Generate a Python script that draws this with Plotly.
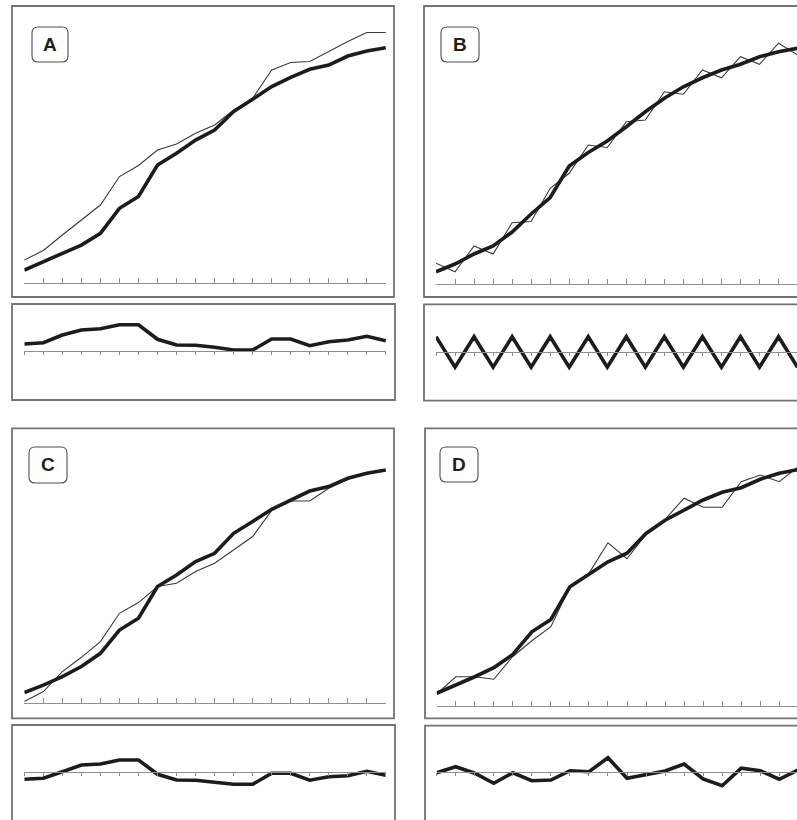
import plotly.graph_objects as go

# ---------------------------------------------------------------
# Data: 20 equally spaced time steps, observed series (thick line),
# model series (thin line) and residuals for the four panels A-D.
# Units are arbitrary (growth index 0-100).
# ---------------------------------------------------------------
steps = list(range(1, 21))

observed_A = [5.3, 8.7, 12.0, 15.3, 20.0, 30.0, 34.7, 47.3, 52.0, 57.3,
              61.3, 68.7, 73.6, 78.7, 82.4, 85.6, 87.3, 90.9, 92.9, 94.2]
model_A = [9.3, 13.1, 19.3, 25.3, 31.3, 42.7, 47.1, 53.3, 55.7, 60.0,
           63.3, 69.3, 74.0, 85.3, 88.3, 88.7, 92.7, 96.7, 100.3, 100.3]
residual_A = [2.8, 3.3, 6.4, 8.4, 8.9, 10.5, 10.5, 4.7, 2.4, 2.3,
              1.5, 0.4, 0.4, 4.8, 4.8, 2.1, 3.7, 4.4, 5.9, 4.1]

observed_B = [4.9, 8.0, 12.0, 15.2, 20.8, 28.0, 34.6, 47.2, 52.6, 57.2,
              62.9, 68.9, 74.3, 78.9, 82.5, 85.6, 87.9, 90.9, 92.9, 94.3]
model_B = [8.3, 4.9, 15.2, 12.0, 24.5, 25.0, 38.3, 44.3, 55.6, 54.6,
           64.9, 65.6, 76.9, 75.9, 85.6, 82.5, 90.9, 87.9, 96.3, 91.6]
residual_B = [6.0, -6.2, 6.0, -6.2, 6.0, -6.2, 6.0, -6.2, 6.0, -6.2,
              6.0, -6.2, 6.0, -6.2, 6.0, -6.2, 6.0, -6.2, 6.0, -6.2]

observed_C = [4.3, 7.3, 10.7, 14.7, 20.0, 29.3, 34.0, 46.7, 51.3, 56.7,
              60.0, 68.0, 72.7, 77.6, 81.3, 84.9, 86.7, 90.0, 92.0, 93.3]
model_C = [0.7, 4.7, 12.7, 18.4, 24.7, 36.0, 40.3, 46.7, 48.0, 52.7,
           56.0, 61.3, 66.7, 77.1, 80.9, 80.9, 86.0, 89.6, 92.0, 93.3]
residual_C = [-2.9, -2.5, 0.1, 2.8, 3.2, 4.8, 4.8, -0.9, -3.2, -3.3,
              -4.1, -4.9, -4.9, -0.5, -0.5, -3.3, -1.9, -1.5, 0.3, -1.3]

observed_D = [5.1, 8.3, 11.7, 15.3, 20.6, 29.7, 34.6, 47.7, 52.8, 57.7,
              61.1, 69.0, 74.3, 78.5, 82.4, 85.5, 87.3, 90.7, 93.1, 94.6]
model_D = [4.8, 11.7, 11.7, 10.7, 19.8, 26.1, 31.7, 47.7, 53.1, 65.3,
           58.9, 68.7, 74.7, 83.1, 79.5, 79.5, 89.7, 92.4, 89.7, 95.7]
residual_D = [-0.3, 2.1, -0.5, -4.5, -0.3, -3.5, -3.2, 0.5, 0.1, 5.7,
              -2.5, -0.9, 0.4, 3.2, -2.8, -5.5, 1.5, 0.5, -2.9, 0.8]

panel_labels = ["A", "B", "C", "D"]

# ---------------------------------------------------------------
# Page geometry (pixels) and helpers
# ---------------------------------------------------------------
W, H = 797, 820
PX_PER_UNIT = 2.5      # vertical pixels per data unit
STEP_PX = 19.03        # horizontal pixels between time steps


def fx(x):
    return x / W


def fy(y):
    return 1 - y / H


panels = [
    dict(label=panel_labels[0], obs=observed_A, mod=model_A, res=residual_A,
         x_first=24.3, box=(12, 394, 6, 297), axis=283.3,
         rbox=(12, 395, 304, 400), zero=351.0, tag=(32, 68, 27, 62)),
    dict(label=panel_labels[1], obs=observed_B, mod=model_B, res=residual_B,
         x_first=436.0, box=(424, 807, 6, 297), axis=284.0,
         rbox=(424, 807, 304.3, 400.7), zero=351.7, tag=(441, 479, 27, 62)),
    dict(label=panel_labels[2], obs=observed_C, mod=model_C, res=residual_C,
         x_first=24.3, box=(12, 394, 428.3, 718.3), axis=703.3,
         rbox=(12, 395, 725, 830), zero=772.0, tag=(29, 67, 447, 483)),
    dict(label=panel_labels[3], obs=observed_D, mod=model_D, res=residual_D,
         x_first=436.7, box=(425, 808, 428.3, 718.3), axis=706.0,
         rbox=(425, 808, 725.7, 830), zero=772.0, tag=(440, 478, 447, 482)),
]

AXIS_GREY = "#8f8f8f"
BOX_GREY = "#737373"
THICK = dict(color="#1c1c1c", width=3.6)
THIN = dict(color="#3a3a3a", width=1.1)

fig = go.Figure()
layout = dict(
    width=W, height=H,
    margin=dict(l=0, r=0, t=0, b=0),
    paper_bgcolor="white", plot_bgcolor="rgba(0,0,0,0)",
    showlegend=False,
)
shapes = []
annotations = []


def rounded_rect(x0, x1, y0, y1, r):
    """SVG path of a rounded rectangle given in pixels, returned in paper units."""
    L, R = fx(x0), fx(x1)
    T, B = fy(y0), fy(y1)
    rx, ry = r / W, r / H
    pts = [
        f"M {L + rx},{T}", f"L {R - rx},{T}", f"Q {R},{T} {R},{T - ry}",
        f"L {R},{B + ry}", f"Q {R},{B} {R - rx},{B}", f"L {L + rx},{B}",
        f"Q {L},{B} {L},{B + ry}", f"L {L},{T - ry}", f"Q {L},{T} {L + rx},{T}", "Z",
    ]
    return " ".join(pts)


for i, p in enumerate(panels):
    main_idx = 2 * i + 1
    res_idx = 2 * i + 2

    x_last = p["x_first"] + (len(steps) - 1) * STEP_PX
    x_end = min(x_last, W)
    x_domain = [fx(p["x_first"]), fx(x_end)]
    x_range = [1, 1 + (x_end - p["x_first"]) / STEP_PX]

    # ---- main panel ----
    bx0, bx1, by0, by1 = p["box"]
    bottom = min(by1, H)
    y_dom = [fy(bottom), fy(by0)]
    y_rng = [(p["axis"] - bottom) / PX_PER_UNIT, (p["axis"] - by0) / PX_PER_UNIT]

    xa = f"xaxis{main_idx}" if main_idx > 1 else "xaxis"
    ya = f"yaxis{main_idx}" if main_idx > 1 else "yaxis"
    xref = f"x{main_idx}" if main_idx > 1 else "x"
    yref = f"y{main_idx}" if main_idx > 1 else "y"

    layout[xa] = dict(domain=x_domain, range=x_range, anchor="free",
                      position=fy(p["axis"]), showline=True, linecolor=AXIS_GREY,
                      linewidth=1, ticks="inside", ticklen=5, tickwidth=1,
                      tickcolor=AXIS_GREY, tickvals=steps, showticklabels=False,
                      showgrid=False, zeroline=False, fixedrange=True)
    layout[ya] = dict(domain=y_dom, range=y_rng, anchor=xref, visible=False,
                      showgrid=False, zeroline=False, fixedrange=True)

    fig.add_trace(go.Scatter(x=steps, y=p["mod"], mode="lines", line=THIN,
                             xaxis=xref, yaxis=yref, hoverinfo="skip"))
    fig.add_trace(go.Scatter(x=steps, y=p["obs"], mode="lines", line=THICK,
                             xaxis=xref, yaxis=yref, hoverinfo="skip"))

    shapes.append(dict(type="rect", xref="paper", yref="paper",
                       x0=fx(bx0), x1=fx(bx1), y0=fy(by1), y1=fy(by0),
                       line=dict(color=BOX_GREY, width=1.8), layer="below"))

    # panel tag in a rounded box
    tx0, tx1, ty0, ty1 = p["tag"]
    shapes.append(dict(type="path", xref="paper", yref="paper",
                       path=rounded_rect(tx0, tx1, ty0, ty1, 6),
                       line=dict(color="#4f4f4f", width=1.1), fillcolor="white"))
    annotations.append(dict(text=f"<b>{p['label']}</b>", xref="paper", yref="paper",
                            x=fx((tx0 + tx1) / 2), y=fy((ty0 + ty1) / 2),
                            xanchor="center", yanchor="middle", showarrow=False,
                            font=dict(family="Liberation Sans, Arial, sans-serif",
                                      size=19, color="#1e1e1e")))

    # ---- residual panel ----
    rx0, rx1, ry0, ry1 = p["rbox"]
    rbottom = min(ry1, H)
    r_dom = [fy(rbottom), fy(ry0)]
    r_rng = [(p["zero"] - rbottom) / PX_PER_UNIT, (p["zero"] - ry0) / PX_PER_UNIT]

    xa_r, ya_r = f"xaxis{res_idx}", f"yaxis{res_idx}"
    xref_r, yref_r = f"x{res_idx}", f"y{res_idx}"
    layout[xa_r] = dict(domain=x_domain, range=x_range, anchor="free",
                        position=fy(p["zero"]), showline=True, linecolor=AXIS_GREY,
                        linewidth=1, ticks="outside", ticklen=3, tickwidth=1,
                        tickcolor=AXIS_GREY, tickvals=steps, showticklabels=False,
                        showgrid=False, zeroline=False, fixedrange=True)
    layout[ya_r] = dict(domain=r_dom, range=r_rng, anchor=xref_r, visible=False,
                        showgrid=False, zeroline=False, fixedrange=True)

    fig.add_trace(go.Scatter(x=steps, y=p["res"], mode="lines", line=THICK,
                             xaxis=xref_r, yaxis=yref_r, hoverinfo="skip"))

    shapes.append(dict(type="rect", xref="paper", yref="paper",
                       x0=fx(rx0), x1=fx(rx1), y0=fy(ry1), y1=fy(ry0),
                       line=dict(color=BOX_GREY, width=1.8), layer="below"))

layout["shapes"] = shapes
layout["annotations"] = annotations
fig.update_layout(**layout)

fig.write_html("out.html", config={"displayModeBar": False, "staticPlot": True})
